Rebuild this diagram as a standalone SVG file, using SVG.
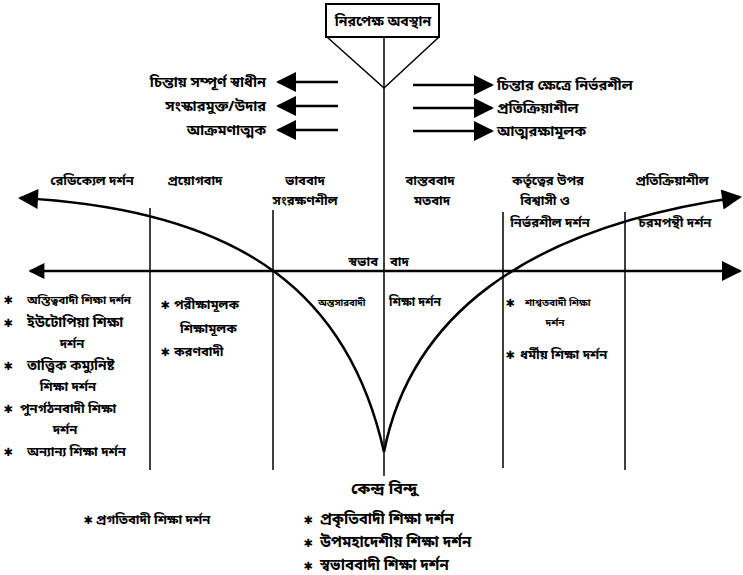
<svg xmlns="http://www.w3.org/2000/svg" width="743" height="575" viewBox="0 0 743 575">
<defs>
<style>
text{font-family:"Noto Sans Bengali","Noto Serif Bengali","Lohit Bengali","FreeSerif","Noto Sans",sans-serif;font-size:13px;font-weight:bold;fill:#000}
.m{text-anchor:middle}
.e{text-anchor:end}
.ln{stroke:#000;stroke-width:1.5;fill:none}
.th{stroke:#000;stroke-width:2.5;fill:none}
.b{font-size:12px}
.l{font-size:14.5px}
</style>
<marker id="ahb" viewBox="0 0 10 10" refX="9" refY="5" markerWidth="24" markerHeight="20" markerUnits="userSpaceOnUse" orient="auto"><path d="M0,0 L10,5 L0,10 Z" fill="#000"/></marker>
<marker id="ahs" viewBox="0 0 10 10" refX="1" refY="5" markerWidth="22" markerHeight="16" markerUnits="userSpaceOnUse" orient="auto"><path d="M10,0 L0,5 L10,10 Z" fill="#000"/></marker>
</defs>
<rect width="743" height="575" fill="#fff"/>
<g id="connectors">
<line class="ln" x1="384" y1="37" x2="384" y2="476"/>
<line class="th" x1="338" y1="82" x2="278" y2="82" marker-end="url(#ahb)"/>
<line class="th" x1="338" y1="106" x2="278" y2="106" marker-end="url(#ahb)"/>
<line class="th" x1="338" y1="130" x2="278" y2="130" marker-end="url(#ahb)"/>
<line class="th" x1="413" y1="85" x2="492" y2="85" marker-end="url(#ahb)"/>
<line class="th" x1="413" y1="108" x2="492" y2="108" marker-end="url(#ahb)"/>
<line class="th" x1="413" y1="131" x2="492" y2="131" marker-end="url(#ahb)"/>
<line class="th" x1="30" y1="271" x2="740" y2="271" marker-start="url(#ahs)" marker-end="url(#ahb)"/>
<path class="th" d="M384,452 C350,300 250,210 20,198" marker-end="url(#ahb)"/>
<path class="th" d="M384,452 C410,320 520,228 740,197" marker-end="url(#ahb)"/>
<line class="ln" x1="150" y1="208" x2="150" y2="470"/>
<line class="ln" x1="273" y1="210" x2="273" y2="470"/>
<line class="ln" x1="503" y1="212" x2="503" y2="468"/>
<line class="ln" x1="625" y1="212" x2="625" y2="470"/>
</g>
<g id="node-top">
<path class="ln" d="M327,37 L384,88 L439,37" />
<rect x="326" y="4" width="113" height="33" fill="#fff" stroke="#000" stroke-width="2"/>
<text class="m" x="383" y="26" style="font-size:14px">নিরপেক্ষ অবস্থান</text>
</g>
<g id="left-labels">
<text class="e l" x="266" y="87">চিন্তায় সম্পূর্ণ স্বাধীন</text>
<text class="e l" x="266" y="111">সংস্কারমুক্ত/উদার</text>
<text class="e l" x="266" y="135">আক্রমণাত্মক</text>
</g>
<g id="right-labels">
<text class="l" x="497" y="90">চিন্তার ক্ষেত্রে নির্ভরশীল</text>
<text class="l" x="497" y="113">প্রতিক্রিয়াশীল</text>
<text class="l" x="497" y="136">আত্মরক্ষামূলক</text>
</g>
<g id="headers">
<text class="m" x="92" y="185">রেডিক্যেল দর্শন</text>
<text class="m" x="195" y="185">প্রয়োগবাদ</text>
<text class="m" x="305" y="185">ভাববাদ</text>
<text class="m" x="305" y="205">সংরক্ষণশীল</text>
<text class="m" x="430" y="185">বাস্তববাদ</text>
<text class="m" x="432" y="205">মতবাদ</text>
<text class="m" x="548" y="185">কর্তৃত্বের উপর</text>
<text class="m" x="545" y="205">বিশ্বাসী ও</text>
<text class="m" x="550" y="227">নির্ভরশীল দর্শন</text>
<text class="m" x="672" y="185">প্রতিক্রিয়াশীল</text>
<text class="m" x="675" y="227">চরমপন্থী দর্শন</text>
<text class="e" x="378" y="266">স্বভাব</text>
<text x="390" y="266">বাদ</text>
</g>
<g id="col1">
<text class="b" x="4" y="304">✱</text><text x="27" y="304" style="font-size:11.5px">অস্তিত্ববাদী শিক্ষা দর্শন</text>
<text class="b" x="4" y="327">✱</text><text x="27" y="327" style="font-size:14px">ইউটোপিয়া শিক্ষা</text>
<text class="m" x="72" y="348">দর্শন</text>
<text class="b" x="4" y="370">✱</text><text x="27" y="370" style="font-size:14px">তাত্ত্বিক কম্যুনিষ্ট</text>
<text class="m" x="68" y="391">শিক্ষা দর্শন</text>
<text class="b" x="4" y="413">✱</text><text x="20" y="413">পুনর্গঠনবাদী শিক্ষা</text>
<text class="m" x="65" y="434">দর্শন</text>
<text class="b" x="4" y="456">✱</text><text x="27" y="456">অন্যান্য শিক্ষা দর্শন</text>
</g>
<g id="col2">
<text class="b" x="161" y="309">✱</text><text x="174" y="309">পরীক্ষামূলক</text>
<text x="180" y="333">শিক্ষামূলক</text>
<text class="b" x="161" y="356">✱</text><text x="174" y="356">করণবাদী</text>
</g>
<g id="col3">
<text x="318" y="306" style="font-size:9.5px">অন্তসারবাদী</text>
<text x="389" y="306" style="font-size:12px">শিক্ষা দর্শন</text>
</g>
<g id="col4">
<text class="b" x="506" y="307">✱</text><text x="525" y="306" style="font-size:10px">শাশ্বতবাদী শিক্ষা</text>
<text class="m" x="555" y="326" style="font-size:10px">দর্শন</text>
<text class="b" x="506" y="359">✱</text><text x="520" y="359">ধর্মীয় শিক্ষা দর্শন</text>
</g>
<g id="bottom">
<text class="m" x="384" y="494" style="font-size:16px">কেন্দ্র বিন্দু</text>
<text class="b" x="84" y="524">✱</text><text x="96" y="524">প্রগতিবাদী শিক্ষা দর্শন</text>
<text class="b" x="304" y="524">✱</text><text x="320" y="524" style="font-size:15px">প্রকৃতিবাদী শিক্ষা দর্শন</text>
<text class="b" x="304" y="547">✱</text><text x="320" y="547" style="font-size:15px">উপমহাদেশীয় শিক্ষা দর্শন</text>
<text class="b" x="304" y="570">✱</text><text x="320" y="570" style="font-size:15px">স্বভাববাদী শিক্ষা দর্শন</text>
</g>
</svg>
